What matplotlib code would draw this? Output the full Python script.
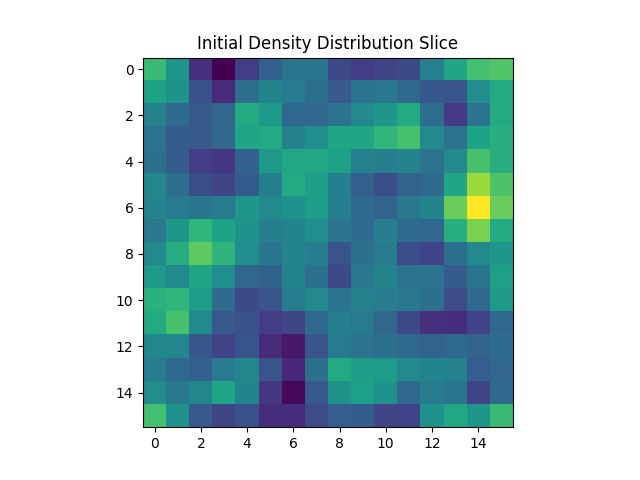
import numpy as np
import matplotlib
matplotlib.use("Agg")
import matplotlib.pyplot as plt

row_00 = [.68,.53,.14,.00,.18,.31,.39,.39,.22,.18,.21,.22,.44,.59,.70,.73]
row_01 = [.58,.51,.25,.12,.36,.45,.41,.36,.28,.38,.40,.34,.27,.26,.49,.61]
row_02 = [.44,.35,.28,.33,.61,.54,.34,.33,.38,.47,.53,.61,.36,.17,.38,.61]
row_03 = [.38,.29,.28,.34,.59,.61,.44,.49,.59,.59,.66,.71,.48,.38,.58,.63]
row_04 = [.37,.29,.18,.16,.31,.54,.60,.60,.57,.44,.43,.45,.38,.47,.71,.63]
row_05 = [.46,.37,.24,.21,.29,.43,.61,.56,.43,.31,.24,.32,.34,.59,.85,.72]
row_06 = [.45,.41,.39,.42,.53,.48,.51,.56,.43,.34,.32,.40,.45,.77,1.0,.77]
row_07 = [.40,.53,.66,.58,.51,.43,.45,.49,.38,.35,.43,.34,.34,.63,.80,.61]
row_08 = [.48,.62,.75,.65,.49,.39,.45,.43,.26,.37,.42,.24,.20,.36,.48,.53]
row_09 = [.54,.47,.59,.49,.33,.31,.45,.37,.22,.40,.45,.38,.38,.29,.39,.57]
row_10 = [.64,.66,.56,.35,.22,.26,.42,.47,.38,.44,.42,.40,.37,.23,.34,.54]
row_11 = [.61,.71,.48,.28,.25,.18,.21,.34,.43,.41,.33,.22,.14,.13,.20,.34]
row_12 = [.46,.46,.27,.20,.26,.12,.07,.26,.41,.38,.37,.34,.32,.34,.32,.35]
row_13 = [.42,.34,.31,.41,.46,.26,.11,.37,.61,.56,.55,.48,.45,.44,.30,.33]
row_14 = [.49,.40,.46,.59,.45,.16,.02,.28,.51,.57,.51,.34,.42,.39,.21,.34]
row_15 = [.70,.51,.28,.21,.25,.13,.13,.23,.30,.29,.21,.20,.51,.60,.53,.68]

density = np.array([row_00,row_01,row_02,row_03,row_04,row_05,row_06,row_07,
                    row_08,row_09,row_10,row_11,row_12,row_13,row_14,row_15])

fig, ax = plt.subplots(figsize=(6.4, 4.8), dpi=100)
ax.imshow(density, cmap="viridis")
ax.set_title("Initial Density Distribution Slice")
fig.savefig("out.png")
